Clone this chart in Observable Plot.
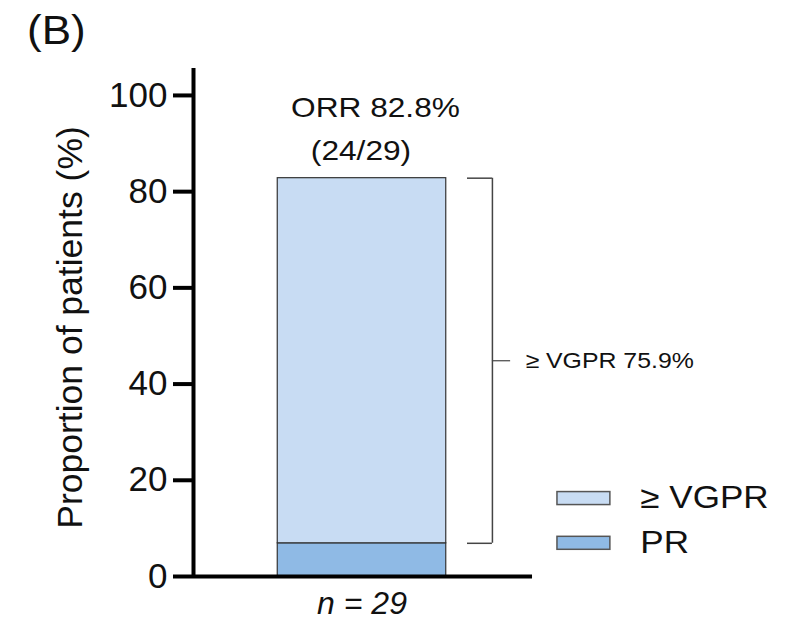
<!DOCTYPE html>
<html>
<head>
<meta charset="utf-8">
<script src="https://cdn.jsdelivr.net/npm/d3@7"></script>
<script src="https://cdn.jsdelivr.net/npm/@observablehq/plot@0.6"></script>
<style>
  html, body { margin: 0; padding: 0; background: #fff; }
  body { width: 792px; height: 630px; overflow: hidden; font-family: "Liberation Sans", Arial, Helvetica, sans-serif; }
  #panel { height: 60px; box-sizing: border-box; padding: 9px 0 0 27px; font-size: 40px; line-height: 42px; color: #111; }
  #panel span { display: inline-block; transform: scaleX(1.1); transform-origin: left center; }
</style>
</head>
<body>
<div id="panel"><span>(B)</span></div>
<div id="chart"></div>
<script>
// ---- data ----
const responses = ["PR", "≥ VGPR"];          // stacking order, bottom to top
const proportions = [6.9, 75.9];              // % of patients
const groupLabel = "n = 29";
const orrText = "ORR 82.8%";
const orrFraction = "(24/29)";
const bracketText = "≥ VGPR 75.9%";
const yTicks = [0, 20, 40, 60, 80, 100];
const legendOrder = ["≥ VGPR", "PR"];
const colors = ["#8fbae5", "#c8dcf3"];

const rows = responses.map((r, i) => ({response: r, value: proportions[i]}));
const orr = d3.sum(proportions);
const vgprLow = proportions[0];

const font = "Liberation Sans, Arial, Helvetica, sans-serif";
const legendY = [16.2, 6.9];

const chart = Plot.plot({
  width: 792,
  height: 570,
  marginLeft: 193,
  marginRight: 262,
  marginTop: 8,
  marginBottom: 54,
  style: {fontFamily: font, color: "#111", background: "#fff"},
  x: {domain: [0, 1], axis: null},
  y: {domain: [0, 105.6], axis: null},
  color: {domain: responses, range: colors},
  marks: [
    // stacked bar
    Plot.rectY(rows, Plot.stackY({
      x1: 0.25, x2: 0.75, y: "value", fill: "response",
      stroke: "#333", strokeWidth: 1.2
    })),
    // axes
    Plot.axisY({
      ticks: yTicks, tickSize: 20, tickPadding: 6, strokeWidth: 4, stroke: "#000",
      fontSize: 35, label: null, tickFormat: d3.format("d")
    }),
    Plot.ruleX([0], {y1: 0, y2: 105.6, stroke: "#000", strokeWidth: 4}),
    Plot.ruleY([0], {x1: 0, x2: 1.006, stroke: "#000", strokeWidth: 4}),
    Plot.text(["Proportion of patients (%)"], {
      frameAnchor: "left", textAnchor: "middle", rotate: -90, dx: -123, dy: 5,
      fontSize: 35.5, fill: "#111", text: d => d, className: "nostretch"
    }),
    Plot.text([groupLabel], {
      x: 0.5, frameAnchor: "bottom", dy: 37, fontSize: 32, fontStyle: "italic", fill: "#111",
      text: d => d, className: "nostretch"
    }),
    // ORR annotation
    Plot.text([orrText], {x: 0.54, y: 97.3, fontSize: 28, fill: "#111", text: d => d}),
    Plot.text([orrFraction], {x: 0.497, y: 88.5, fontSize: 28, fill: "#111", text: d => d}),
    // bracket
    Plot.ruleX([0.887], {y1: vgprLow, y2: orr, stroke: "#444", strokeWidth: 1.5}),
    Plot.ruleY([orr, vgprLow], {x1: 0.813, x2: 0.887, stroke: "#444", strokeWidth: 1.5}),
    Plot.ruleY([(orr + vgprLow) / 2], {x1: 0.887, x2: 0.941, stroke: "#444", strokeWidth: 1.2}),
    Plot.text([bracketText], {x: 0.985, y: (orr + vgprLow) / 2, textAnchor: "start", fontSize: 22, fill: "#111", text: d => d}),
    // legend
    Plot.rect(legendOrder, {
      x1: 1.08, x2: 1.237,
      y1: (d, i) => legendY[i] - 1.35, y2: (d, i) => legendY[i] + 1.35,
      fill: d => d, stroke: "#555", strokeWidth: 1.5
    }),
    Plot.text(legendOrder, {
      x: 1.326, y: (d, i) => legendY[i], textAnchor: "start", fontSize: 31, fill: "#111", text: d => d
    })
  ]
});
document.getElementById("chart").appendChild(chart);

// widen annotation texts slightly to match the reference's wide lettering
chart.querySelectorAll("text").forEach(t => {
  if (t.closest(".nostretch") || t.closest("[aria-label='y-axis tick label']")) return;
  const len = t.getComputedTextLength();
  if (len > 0) {
    t.setAttribute("textLength", (len * 1.13).toFixed(1));
    t.setAttribute("lengthAdjust", "spacingAndGlyphs");
  }
});
</script>
</body>
</html>
